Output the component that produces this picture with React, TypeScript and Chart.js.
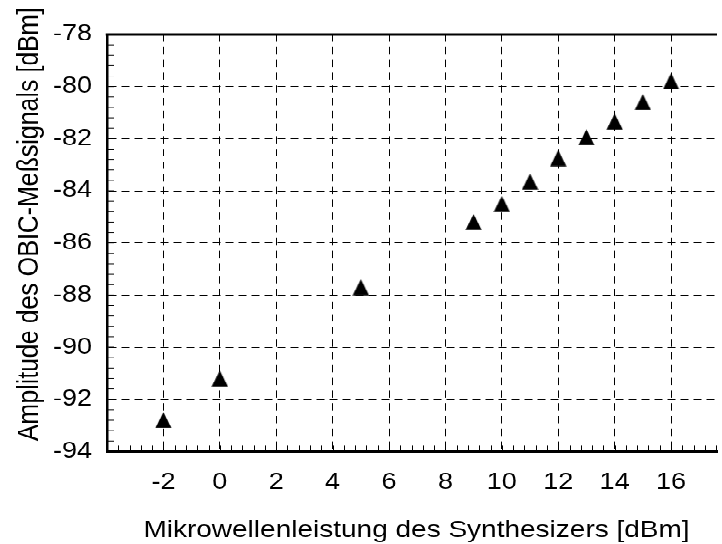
import React, { useEffect, useRef } from "react";
import { Chart, registerables } from "chart.js";

Chart.register(...registerables);

// Microwave power of the synthesizer [dBm]
const powerDbm = [-2, 0, 5, 9, 10, 11, 12, 13, 14, 15, 16];
// Amplitude of the OBIC measurement signal [dBm]
const amplitudeDbm = [-92.8, -91.2, -87.7, -85.2, -84.5, -83.65, -82.75, -81.95, -81.35, -80.6, -79.8];

const xTicks = [-2, 0, 2, 4, 6, 8, 10, 12, 14, 16];
const yTicks = [-94, -92, -90, -88, -86, -84, -82, -80, -78];

const xTitle = "Mikrowellenleistung des Synthesizers [dBm]";
const yTitle = "Amplitude des OBIC-Meßsignals [dBm]";

const X_MIN = -4;
const X_MAX = 17.63;
const Y_MIN = -94;
const Y_MAX = -78;
const MINOR_STEP = 0.4;

// The canvas is drawn taller and squeezed vertically by CSS,
// which gives the wide lettering of the plot.
const W = 722;
const H = 633;
const SQUASH = 544 / H;

const FONT = '"Liberation Sans", Arial, sans-serif';

function makeTriangle(): HTMLCanvasElement {
  const c = document.createElement("canvas");
  c.width = 17;
  c.height = 19;
  const g = c.getContext("2d")!;
  g.fillStyle = "#000";
  g.beginPath();
  g.moveTo(8.5, 0.3);
  g.lineTo(16.7, 18.7);
  g.lineTo(0.3, 18.7);
  g.closePath();
  g.fill();
  return c;
}

const framePlugin = {
  id: "frame",
  afterDraw(chart: any) {
    const { ctx, chartArea } = chart;
    const xs = chart.scales.x;
    const ys = chart.scales.y;
    ctx.save();
    ctx.strokeStyle = "#000";

    // top frame line
    ctx.lineWidth = 3;
    ctx.beginPath();
    ctx.moveTo(chartArea.left - 1.25, chartArea.top);
    ctx.lineTo(chartArea.right, chartArea.top);
    ctx.stroke();

    // inward minor ticks on the bottom axis
    ctx.lineWidth = 1;
    ctx.beginPath();
    for (let i = 0; ; i++) {
      const v = X_MIN + i * MINOR_STEP;
      if (v > X_MAX + 1e-6) break;
      const px = Math.round(xs.getPixelForValue(v)) + 0.5;
      ctx.moveTo(px, chartArea.bottom);
      ctx.lineTo(px, chartArea.bottom - 7);
    }
    // inward minor ticks on the left axis
    for (let i = 0; ; i++) {
      const v = Y_MIN + i * MINOR_STEP;
      if (v > Y_MAX + 1e-6) break;
      const py = ys.getPixelForValue(v);
      ctx.moveTo(chartArea.left, py);
      ctx.lineTo(chartArea.left + 7, py);
    }
    ctx.stroke();

    // axis titles
    ctx.fillStyle = "#000";
    ctx.font = `28px ${FONT}`;
    ctx.textAlign = "center";
    ctx.textBaseline = "alphabetic";
    ctx.fillText(xTitle, 416.5, 624.5);

    ctx.font = `29px ${FONT}`;
    ctx.translate(37.5, 261);
    ctx.rotate(-Math.PI / 2);
    ctx.fillText(yTitle, 0, 0);
    ctx.restore();
  },
};

export default function App() {
  const canvasRef = useRef<HTMLCanvasElement | null>(null);

  useEffect(() => {
    document.body.style.margin = "0";
    document.body.style.overflow = "hidden";
    const canvas = canvasRef.current;
    if (!canvas) return;

    const chart = new Chart(canvas, {
      type: "scatter",
      data: {
        datasets: [
          {
            data: powerDbm.map((x, i) => ({ x, y: amplitudeDbm[i] })),
            pointStyle: makeTriangle(),
            backgroundColor: "#000",
            borderColor: "#000",
            showLine: false,
          },
        ],
      },
      options: {
        animation: false,
        responsive: false,
        devicePixelRatio: 1,
        layout: { padding: { top: 40, left: 0, right: 0, bottom: 0 } },
        plugins: {
          legend: { display: false },
          tooltip: { enabled: false },
        },
        scales: {
          x: {
            type: "linear",
            min: X_MIN,
            max: X_MAX,
            afterBuildTicks: (s: any) => {
              s.ticks = xTicks.map((value) => ({ value }));
            },
            afterFit: (s: any) => {
              s.height = H - 525.4;
            },
            grid: { color: "#000", lineWidth: 1, drawTicks: false },
            border: { display: true, color: "#000", width: 3, dash: [8.5, 6.3] },
            ticks: {
              autoSkip: false,
              maxRotation: 0,
              padding: 20,
              color: "#000",
              font: { family: FONT, size: 27 },
              callback: (v: any) => String(v),
            },
          },
          y: {
            type: "linear",
            min: Y_MIN,
            max: Y_MAX,
            afterBuildTicks: (s: any) => {
              s.ticks = yTicks.map((value) => ({ value }));
            },
            afterFit: (s: any) => {
              s.width = 107;
            },
            grid: { color: "#000", lineWidth: 1, drawTicks: false },
            border: { display: true, color: "#000", width: 2.5, dash: [8, 5] },
            ticks: {
              autoSkip: false,
              padding: 15,
              color: "#000",
              font: { family: FONT, size: 27 },
              callback: (v: any) => String(v),
            },
          },
        },
      },
      plugins: [framePlugin],
    });

    return () => chart.destroy();
  }, []);

  return (
    <div
      style={{
        position: "absolute",
        left: 0,
        top: 0,
        width: W,
        height: H,
        transform: `scaleY(${SQUASH})`,
        transformOrigin: "0 0",
        background: "#fff",
      }}
    >
      <canvas ref={canvasRef} width={W} height={H} style={{ display: "block" }} />
    </div>
  );
}
